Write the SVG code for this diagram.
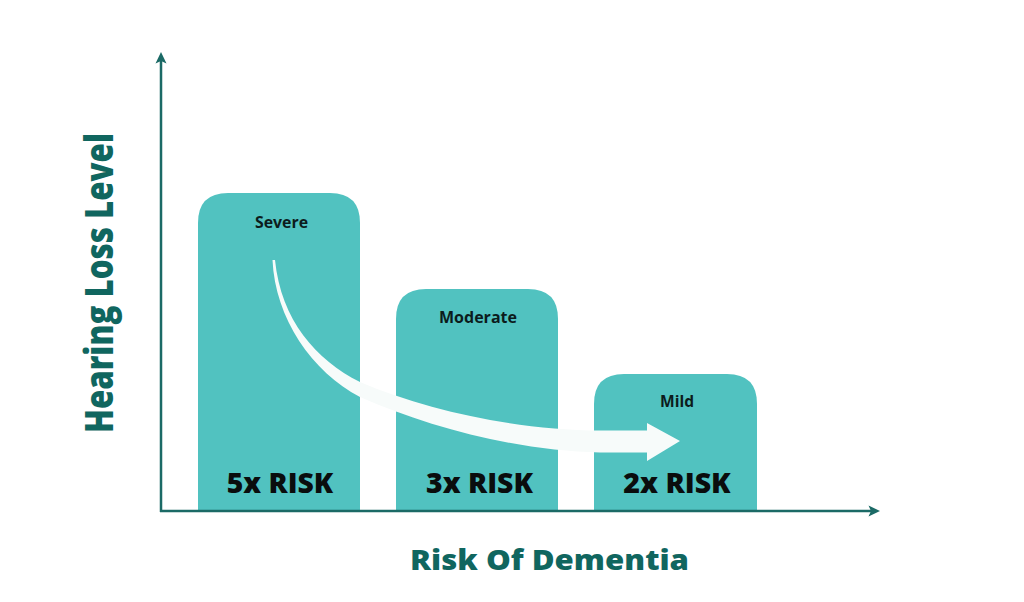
<svg xmlns="http://www.w3.org/2000/svg" width="1024" height="602" viewBox="0 0 1024 602">
  <style>
    .bar { fill: #51c2c0; }
    .axis { stroke: #1b6a66; stroke-width: 2.5; fill: none; }
    .head { fill: #1b6a66; }
    .lvl { font-family: "Open Sans", "Noto Sans", sans-serif; font-weight: 700; font-size: 16px; fill: #0c1c1c; text-anchor: middle; }
    .risk { font-family: "Open Sans", "Noto Sans", sans-serif; font-weight: 800; font-size: 27.6px; fill: #0a0d0d; text-anchor: middle; }
    .title { font-family: "Open Sans", "Noto Sans", sans-serif; font-weight: 800; fill: #10665f; text-anchor: middle; }
  </style>
  <rect width="1024" height="602" fill="#ffffff"/>

  <g id="bar-severe">
    <path class="bar" d="M198,511 V223 Q198,193 228,193 H330 Q360,193 360,223 V511 Z"/>
    <text class="lvl" x="281.5" y="227.5" textLength="53" lengthAdjust="spacingAndGlyphs">Severe</text>
    <text class="risk" x="280" y="492.5" textLength="106.5" lengthAdjust="spacingAndGlyphs">5x RISK</text>
  </g>
  <g id="bar-moderate">
    <path class="bar" d="M396,511 V319 Q396,289 426,289 H528 Q558,289 558,319 V511 Z"/>
    <text class="lvl" x="478" y="322.5" textLength="78" lengthAdjust="spacingAndGlyphs">Moderate</text>
    <text class="risk" x="479.5" y="492.5" textLength="107" lengthAdjust="spacingAndGlyphs">3x RISK</text>
  </g>
  <g id="bar-mild">
    <path class="bar" d="M594,511 V404 Q594,374 624,374 H727 Q757,374 757,404 V511 Z"/>
    <text class="lvl" x="677" y="406.5" textLength="34" lengthAdjust="spacingAndGlyphs">Mild</text>
    <text class="risk" x="677" y="492.5" textLength="107.5" lengthAdjust="spacingAndGlyphs">2x RISK</text>
  </g>

  <g id="trend-arrow">
    <path fill="#f7fbfa" d="M272.5,260 C275,318 312,372 360,397 C430,428 520,451 600,452.5 L647,452.5 L647,461 L680,441 L647,423 L647,430.5 L600,430.5 C520,430 430,412 360,382 C316,360 281,320 275,260 Z"/>
  </g>

  <g id="connectors">
    <path class="axis" d="M161,512 V60"/>
    <path class="head" d="M161,52 L166.5,63.5 L161,61 L155.5,63.5 Z"/>
    <path class="axis" d="M160,511 H872"/>
    <path class="head" d="M880,511 L868.5,516.5 L871,511 L868.5,505.5 Z"/>
  </g>

  <g id="axis-labels">
    <text class="title" x="549.5" y="569.5" font-size="28.5" textLength="279" lengthAdjust="spacingAndGlyphs">Risk Of Dementia</text>
    <text class="title" transform="translate(113,283) rotate(-90)" x="0" y="0" font-size="39" textLength="300" lengthAdjust="spacingAndGlyphs">Hearing Loss Level</text>
  </g>
</svg>
